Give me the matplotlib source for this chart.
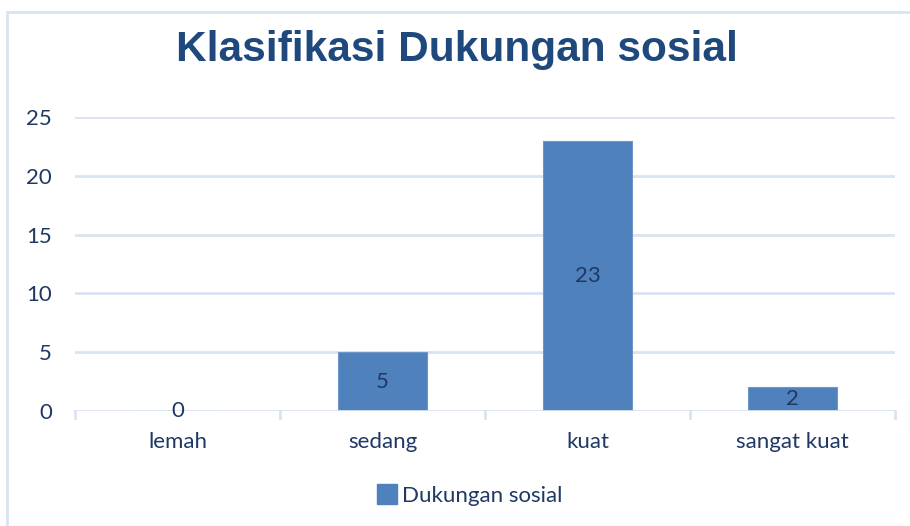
import matplotlib.pyplot as plt
from matplotlib.patches import Rectangle, Patch

categories = ["lemah", "sedang", "kuat", "sangat kuat"]
values = [0, 5, 23, 2]
series_name = "Dukungan sosial"
yticks = [0, 5, 10, 15, 20, 25]

bar_color = "#4F81BD"
text_color = "#1F3864"
grid_color = "#D9E3F1"

fig = plt.figure(figsize=(9.1, 5.26), dpi=100)
ax = fig.add_axes([75 / 910, 1 - 411 / 526, 820 / 910, 294 / 526])

# chart frame (light blue border, cut off at the right and bottom)
fig.patches.append(Rectangle((7 / 910, -0.1), 1.2, 1 - 12 / 526 + 0.1,
                             transform=fig.transFigure, fill=False,
                             edgecolor=grid_color, linewidth=2))

x = range(len(categories))
ax.bar(x, values, width=0.43, color=bar_color, edgecolor="#6F96C8",
       linewidth=0.8, zorder=2)

ax.set_xlim(-0.5, len(categories) - 0.5)
ax.set_ylim(0, 25)
ax.set_yticks(yticks)
ax.set_xticks(list(x))
ax.set_xticklabels(categories)

for v in yticks[1:]:
    ax.axhline(v, color=grid_color, linewidth=2, zorder=1)
ax.axhline(0, color=grid_color, linewidth=2, zorder=3)
# category separator ticks below the axis
for b in [i - 0.5 for i in range(len(categories) + 1)]:
    ax.plot([b, b], [0, -0.6], color=grid_color, linewidth=2,
            clip_on=False, zorder=3)

for s in ax.spines.values():
    s.set_visible(False)
ax.tick_params(axis="both", length=0, labelsize=16, labelcolor=text_color)
ax.tick_params(axis="y", pad=16.5)
ax.tick_params(axis="x", pad=15)
for lab in ax.get_xticklabels() + ax.get_yticklabels():
    lab.set_fontfamily("Lato")

for i, v in enumerate(values):
    ax.text(i, max(v / 2, -0.1), str(v), ha="center", va="center", fontsize=16,
            color=text_color, family="Lato", zorder=4)

fig.text(0.502, 1 - 50 / 526, "Klasifikasi Dukungan sosial", ha="center",
         va="center", fontsize=30.5, fontweight="bold", color="#1F497D",
         family="Liberation Sans")

handle = Patch(facecolor=bar_color, edgecolor=bar_color)
fig.legend([handle], [series_name], loc="center", bbox_to_anchor=(0.516, 1 - 495 / 526),
           frameon=False, handlelength=0.9, handleheight=1.0, handletextpad=0.2,
           prop={"family": "Lato", "size": 16}, labelcolor=text_color)

fig.savefig("out.png", dpi=100)
